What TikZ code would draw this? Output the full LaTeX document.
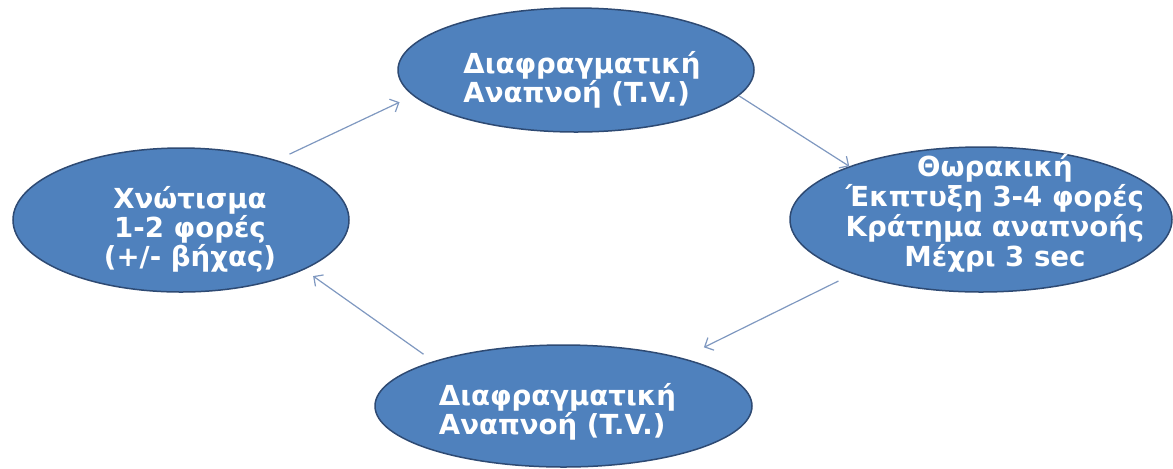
\documentclass[tikz,border=0pt]{standalone}
\usepackage{fontspec}
\setmainfont{DejaVu Sans}
\usepackage{xcolor}
\usepackage{tikz}
\usetikzlibrary{shapes, arrows.meta, shapes.geometric}
\definecolor{phasefill}{HTML}{4F81BD}
\definecolor{phaseline}{HTML}{2E4A73}
\definecolor{flowline}{HTML}{7F98C0}

\begin{document}
\begin{tikzpicture}[
    x=0.5pt, y=-0.5pt,% one unit is one pixel of the sheet
    phase/.style = {ellipse, draw=phaseline, fill=phasefill, line width=0.75pt},% the four steps
    phasetext/.style = {inner sep=0pt, text=white,
                        font=\bfseries\fontsize{13.8}{14.5}\selectfont},% their white labels
    flow/.style = {draw=flowline, line width=0.6pt,
                   -{Straight Barb[length=3.5pt,width=7pt]}}% arrows between steps
    ]
    \useasboundingbox (0,0) rectangle (1173,468);
    \node (ntop) [phase, minimum width=178pt, minimum height=62pt] at (576,70) {};
    \node (nright) [phase, minimum width=191pt, minimum height=72.5pt] at (981,219.5) {};
    \node (nbot) [phase, minimum width=188.5pt, minimum height=61pt] at (563.5,406) {};
    \node (nleft) [phase, minimum width=168pt, minimum height=72pt] at (181,220) {};
    % labels
    \node (ttop) [phasetext, align=left, xshift=3pt, yshift=-5pt] at (ntop)
        {Διαφραγματική\\Αναπνοή (T.V.)};
    \node (tright) [phasetext, align=center, xshift=7pt, yshift=3pt,
        font=\bfseries\fontsize{13.8}{13.6}\selectfont] at (nright)
        {Θωρακική\\Έκπτυξη 3-4 φορές\\Κράτημα αναπνοής\\Μέχρι 3 sec};
    \node (tbot) [phasetext, align=left, xshift=-3pt, yshift=-3pt] at (nbot)
        {Διαφραγματική\\Αναπνοή (T.V.)};
    \node (tleft) [phasetext, align=center, xshift=4.5pt, yshift=-4.5pt] at (nleft)
        {Χνώτισμα\\1-2 φορές\\(+/- βήχας)};
    % cycle
    \draw[flow, shorten >=7.5pt, shorten <=7pt] (nleft.32) -- (ntop.189);
    \draw[flow] (ntop.351) -- (nright.158);
    \draw[flow, shorten >=12pt, shorten <=8pt] (nright.203) -- (nbot.22);
    \draw[flow, shorten >=5.5pt, shorten <=6pt] (nbot.161) -- (nleft.338);
\end{tikzpicture}
\end{document}
